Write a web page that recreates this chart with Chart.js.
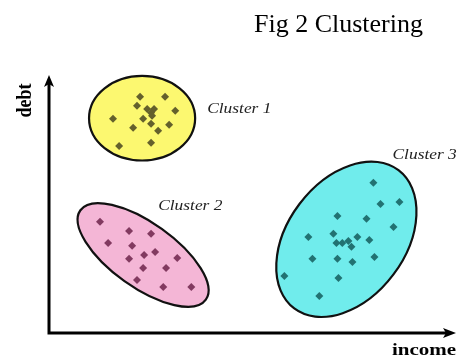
<!DOCTYPE html>
<html>
<head>
<meta charset="utf-8">
<script src="https://cdn.jsdelivr.net/npm/chart.js@4.4.1/dist/chart.umd.min.js"></script>
<style>
  html, body { margin: 0; padding: 0; background: #fff; }
  #wrap { width: 458px; height: 358px; position: relative; }
</style>
</head>
<body>
<div id="wrap"><canvas id="clusterChart"></canvas></div>
<script>
// cluster names and the points of each cluster (income, debt), arbitrary units
const clusterNames = ["Cluster 1", "Cluster 2", "Cluster 3"];

const c1Income = [44.8, 57.1, 43.3, 48.3, 51.7, 62.1, 50.2, 50.7, 31.5, 46.3, 50.2, 59.1, 41.4, 53.7, 34.5, 50.2];
const c1Debt   = [116.3, 116.3, 111.8, 110.3, 110.3, 109.4, 108.4, 106.9, 105.4, 105.4, 103.0, 102.5, 101.0, 99.5, 92.1, 93.6];

const c2Income = [25.1, 39.4, 50.2, 29.1, 40.9, 52.2, 46.8, 39.4, 63.1, 46.3, 57.6, 43.3, 56.2, 70.0];
const c2Debt   = [54.7, 50.2, 48.8, 44.3, 42.9, 39.9, 38.4, 36.5, 36.9, 32.0, 32.0, 26.1, 22.7, 22.7];

const c3Income = [159.6, 163.1, 172.4, 141.9, 156.2, 169.5, 127.6, 139.9, 151.7, 147.3, 141.4, 144.3, 157.6, 148.8, 129.6, 141.9, 149.3, 160.1, 115.8, 142.4, 133.0];
const c3Debt   = [73.9, 63.5, 64.5, 57.6, 56.2, 52.2, 47.3, 48.8, 47.3, 45.3, 44.3, 44.3, 45.8, 42.4, 36.5, 36.5, 35.0, 37.4, 28.1, 27.1, 18.2];

// cluster outlines: centre, semi axes and tilt (degrees), in data units
const ringX     = [45.8, 46.3, 146.3];
const ringY     = [105.7, 38.4, 46.1];
const ringA     = [26.1, 37.9, 42.6];
const ringB     = [20.8, 15.8, 28.9];
const ringAngle = [0, -35.5, 53];

const ringFill  = ["rgb(252,248,112)", "rgb(244,182,214)", "rgb(112,236,236)"];
const dotColor  = ["rgb(100,96,44)", "rgb(130,58,96)", "rgb(34,114,114)"];

function toPoints(xs, ys) {
  return xs.map((x, i) => ({ x: x, y: ys[i] }));
}

const serif = "'Liberation Serif', 'Times New Roman', serif";

// ellipses behind the dots
const ringsPlugin = {
  id: "rings",
  beforeDatasetsDraw(chart) {
    const ctx = chart.ctx;
    const xs = chart.scales.x, ys = chart.scales.y;
    const k = xs.getPixelForValue(1) - xs.getPixelForValue(0);
    ctx.save();
    for (let i = 0; i < ringX.length; i++) {
      ctx.beginPath();
      ctx.ellipse(xs.getPixelForValue(ringX[i]), ys.getPixelForValue(ringY[i]),
        ringA[i] * k, ringB[i] * k, -ringAngle[i] * Math.PI / 180, 0, Math.PI * 2);
      ctx.fillStyle = ringFill[i];
      ctx.fill();
      ctx.lineWidth = 2.2;
      ctx.strokeStyle = "#111";
      ctx.stroke();
    }
    ctx.restore();
  }
};

// hand drawn axes with arrow heads, axis words and cluster names
const labelPos = [[77.8, 108.4], [53.7, 60.6], [169.0, 85.7]];

function stretchedText(ctx, text, x, y, rot) {
  ctx.save();
  ctx.translate(x, y);
  ctx.scale(1.2, 1);
  if (rot) ctx.rotate(rot);
  ctx.fillText(text, 0, 0);
  ctx.restore();
}

const axesPlugin = {
  id: "axesArrows",
  afterDraw(chart) {
    const ctx = chart.ctx;
    const a = chart.chartArea;
    const xs = chart.scales.x, ys = chart.scales.y;
    ctx.save();
    ctx.strokeStyle = "#000";
    ctx.fillStyle = "#000";
    ctx.lineWidth = 3;
    ctx.beginPath();
    ctx.moveTo(a.left, 82);
    ctx.lineTo(a.left, a.bottom);
    ctx.lineTo(450, a.bottom);
    ctx.stroke();
    // arrow heads
    ctx.beginPath();
    ctx.moveTo(a.left, 75);
    ctx.lineTo(a.left - 5, 87);
    ctx.lineTo(a.left, 84);
    ctx.lineTo(a.left + 5, 87);
    ctx.closePath();
    ctx.fill();
    ctx.beginPath();
    ctx.moveTo(456, a.bottom);
    ctx.lineTo(443, a.bottom - 5);
    ctx.lineTo(446, a.bottom);
    ctx.lineTo(443, a.bottom + 5);
    ctx.closePath();
    ctx.fill();

    ctx.textBaseline = "alphabetic";
    ctx.font = "bold 18px " + serif;
    ctx.textAlign = "center";
    stretchedText(ctx, "debt", 31, 100.5, -Math.PI / 2);
    ctx.font = "bold 17.5px " + serif;
    ctx.textAlign = "left";
    stretchedText(ctx, "income", 392, 355);

    ctx.font = "italic 14.5px " + serif;
    ctx.fillStyle = "#222";
    clusterNames.forEach((name, i) => {
      stretchedText(ctx, name, xs.getPixelForValue(labelPos[i][0]), ys.getPixelForValue(labelPos[i][1]));
    });
    ctx.restore();
  }
};

const ctx_cluster = document.getElementById("clusterChart").getContext("2d");

const myChart_cluster = new Chart(ctx_cluster, {
  type: "scatter",
  data: {
    datasets: [
      { label: clusterNames[0], data: toPoints(c1Income, c1Debt), backgroundColor: dotColor[0] },
      { label: clusterNames[1], data: toPoints(c2Income, c2Debt), backgroundColor: dotColor[1] },
      { label: clusterNames[2], data: toPoints(c3Income, c3Debt), backgroundColor: dotColor[2] }
    ]
  },
  options: {
    responsive: true,
    maintainAspectRatio: false,
    animation: false,
    layout: { padding: { left: 49, right: 35, top: 0, bottom: 25 } },
    elements: { point: { pointStyle: "rectRot", radius: 4, borderWidth: 0, hoverRadius: 4 } },
    scales: {
      x: { type: "linear", min: 0, max: 184, display: false },
      y: { type: "linear", min: 0, max: 126, display: false }
    },
    plugins: {
      legend: { display: false },
      tooltip: { enabled: false },
      title: {
        display: true,
        text: "Fig 2 Clustering",
        align: "end",
        color: "#000",
        font: { family: serif, size: 26, weight: "normal", lineHeight: 1.2 },
        padding: { top: 10, bottom: 35.8 }
      }
    }
  },
  plugins: [ringsPlugin, axesPlugin]
});
</script>
</body>
</html>
